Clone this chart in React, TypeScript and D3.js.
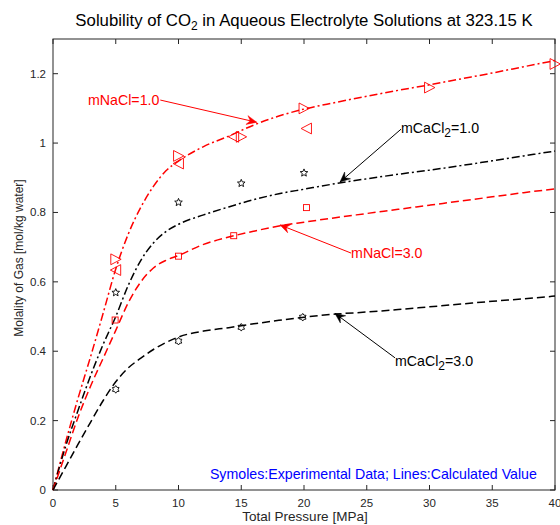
import React from "react";
import * as d3 from "d3";

// ---------- data ----------
const pressureGrid = [0, 1, 2, 3, 4, 5, 6, 7, 8, 9, 10, 12, 14, 16, 18, 20, 22.5, 25, 27.5, 30, 32.5, 35, 37.5, 40];
const calcNaCl1 = [0, 0.137, 0.265, 0.385, 0.51, 0.637, 0.738, 0.815, 0.875, 0.92, 0.948, 0.99, 1.02, 1.052, 1.078, 1.098, 1.117, 1.135, 1.152, 1.168, 1.185, 1.202, 1.22, 1.238];
const calcCaCl1 = [0, 0.125, 0.23, 0.33, 0.42, 0.5, 0.59, 0.662, 0.712, 0.745, 0.766, 0.793, 0.816, 0.837, 0.854, 0.867, 0.883, 0.897, 0.91, 0.922, 0.935, 0.949, 0.963, 0.977];
const calcNaCl3 = [0, 0.105, 0.21, 0.3, 0.38, 0.46, 0.54, 0.6, 0.64, 0.662, 0.676, 0.708, 0.729, 0.746, 0.761, 0.772, 0.785, 0.797, 0.809, 0.821, 0.833, 0.845, 0.857, 0.868];
const calcCaCl3 = [0, 0.066, 0.132, 0.196, 0.258, 0.312, 0.352, 0.38, 0.405, 0.425, 0.441, 0.458, 0.468, 0.479, 0.489, 0.498, 0.507, 0.513, 0.52, 0.528, 0.536, 0.544, 0.551, 0.559];

const expNaCl1A_P = [5, 10, 15, 20, 30, 40];
const expNaCl1A = [0.665, 0.963, 1.018, 1.1, 1.16, 1.228];
const expNaCl1B_P = [5, 10, 14.4, 20.2];
const expNaCl1B = [0.634, 0.941, 1.018, 1.042];
const expCaCl1_P = [5, 10, 15, 20];
const expCaCl1 = [0.569, 0.829, 0.884, 0.914];
const expNaCl3_P = [4.95, 10, 14.4, 20.2];
const expNaCl3 = [0.49, 0.674, 0.733, 0.814];
const expCaCl3_P = [5, 10, 15, 19.9];
const expCaCl3 = [0.29, 0.429, 0.469, 0.498];

const xTicks = [0, 5, 10, 15, 20, 25, 30, 35, 40];
const yTicks = [0, 0.2, 0.4, 0.6, 0.8, 1.0, 1.2];

// annotations in data units
const annotations = [
  { label: "mNaCl=1.0", sub: "", rest: "", color: "#ff0000", tx: 2.79, ty: 1.124, fx: 8.55, fy: 1.124, px: 16.23, py: 1.06 },
  { label: "mCaCl", sub: "2", rest: "=1.0", color: "#000000", tx: 27.73, ty: 1.043, fx: 27.73, fy: 1.04, px: 22.87, py: 0.888 },
  { label: "mNaCl=3.0", sub: "", rest: "", color: "#ff0000", tx: 23.75, ty: 0.683, fx: 23.75, fy: 0.683, px: 18.09, py: 0.764 },
  { label: "mCaCl", sub: "2", rest: "=3.0", color: "#000000", tx: 27.25, ty: 0.372, fx: 27.25, fy: 0.381, px: 22.47, py: 0.509 },
];

const FONT = "'Liberation Sans', Arial, Helvetica, sans-serif";
const AX = "#262626";

const W = 560, H = 525;
const x = d3.scaleLinear().domain([0, 40]).range([53, 555]);
const y = d3.scaleLinear().domain([0, 1.3]).range([490, 39]);

function curvePath(vals: number[]) {
  const line = d3
    .line<number>()
    .x((_, i) => x(pressureGrid[i]))
    .y((d) => y(d))
    .curve(d3.curveMonotoneX);
  return line(vals) || "";
}

function triRight(cx: number, cy: number, s: number) {
  return `M${cx - s * 0.55},${cy - s * 0.6}L${cx + s * 0.6},${cy}L${cx - s * 0.55},${cy + s * 0.6}Z`;
}
function triLeft(cx: number, cy: number, s: number) {
  return `M${cx + s * 0.55},${cy - s * 0.6}L${cx - s * 0.6},${cy}L${cx + s * 0.55},${cy + s * 0.6}Z`;
}
function starPath(cx: number, cy: number, n: number, ro: number, ri: number) {
  const pts: string[] = [];
  for (let i = 0; i < 2 * n; i++) {
    const r = i % 2 === 0 ? ro : ri;
    const a = -Math.PI / 2 + (i * Math.PI) / n;
    pts.push(`${cx + r * Math.cos(a)},${cy + r * Math.sin(a)}`);
  }
  return "M" + pts.join("L") + "Z";
}

function arrowHead(fx: number, fy: number, tx: number, ty: number) {
  const dx = tx - fx, dy = ty - fy;
  const len = Math.hypot(dx, dy);
  const ux = dx / len, uy = dy / len;
  const nx = -uy, ny = ux;
  const L = 10, Wd = 4.5, notch = 6.5;
  const bx = tx - ux * L, by = ty - uy * L;
  const mx = tx - ux * notch, my = ty - uy * notch;
  return `M${tx},${ty}L${bx + nx * Wd},${by + ny * Wd}L${mx},${my}L${bx - nx * Wd},${by - ny * Wd}Z`;
}

export default function App() {
  const dashDot = "8,3,2,3";
  const dashed = "8,4";
  return (
    <svg width={W} height={H} style={{ position: "absolute", left: 0, top: 0, background: "#fff" }} fontFamily={FONT}>
      <rect x={0} y={0} width={W} height={H} fill="#fff" />
      {/* title */}
      <text x={304} y={26} textAnchor="middle" fontSize={16.8} fill="#000">
        Solubility of CO<tspan fontSize={12} dy={4}>2</tspan>
        <tspan dy={-4}> in Aqueous Electrolyte Solutions at 323.15 K</tspan>
      </text>

      {/* axes box */}
      <rect x={x(0)} y={y(1.3)} width={x(40) - x(0)} height={y(0) - y(1.3)} fill="none" stroke={AX} strokeWidth={1} />
      {xTicks.map((t) => (
        <g key={"xt" + t}>
          <line x1={x(t)} x2={x(t)} y1={y(0)} y2={y(0) - 5} stroke={AX} />
          <line x1={x(t)} x2={x(t)} y1={y(1.3)} y2={y(1.3) + 5} stroke={AX} />
          <text x={x(t)} y={507} textAnchor="middle" fontSize={11.5} fill={AX}>
            {t}
          </text>
        </g>
      ))}
      {yTicks.map((t) => (
        <g key={"yt" + t}>
          <line x1={x(0)} x2={x(0) + 5} y1={y(t)} y2={y(t)} stroke={AX} />
          <line x1={x(40)} x2={x(40) - 5} y1={y(t)} y2={y(t)} stroke={AX} />
          <text x={46} y={y(t) + 4} textAnchor="end" fontSize={11.5} fill={AX}>
            {String(t)}
          </text>
        </g>
      ))}
      <text x={305} y={521} textAnchor="middle" fontSize={13.5} fill={AX}>
        Total Pressure [MPa]
      </text>
      <text transform={`translate(23,${258}) rotate(-90)`} textAnchor="middle" fontSize={12} fill={AX}>
        Molality of Gas [mol/kg water]
      </text>

      {/* calculated curves */}
      <path d={curvePath(calcNaCl1)} fill="none" stroke="#ff0000" strokeWidth={1.5} strokeDasharray={dashDot} />
      <path d={curvePath(calcCaCl1)} fill="none" stroke="#000" strokeWidth={1.5} strokeDasharray={dashDot} />
      <path d={curvePath(calcNaCl3)} fill="none" stroke="#ff0000" strokeWidth={1.5} strokeDasharray={dashed} />
      <path d={curvePath(calcCaCl3)} fill="none" stroke="#000" strokeWidth={1.5} strokeDasharray={dashed} />

      {/* experimental markers */}
      {expNaCl1A.map((v, i) => (
        <path key={"a" + i} d={triRight(x(expNaCl1A_P[i]), y(v), 9)} fill="none" stroke="#ff0000" strokeWidth={0.9} />
      ))}
      {expNaCl1B.map((v, i) => (
        <path key={"b" + i} d={triLeft(x(expNaCl1B_P[i]), y(v), 9)} fill="none" stroke="#ff0000" strokeWidth={0.9} />
      ))}
      {expCaCl1.map((v, i) => (
        <path key={"c" + i} d={starPath(x(expCaCl1_P[i]), y(v), 5, 4, 1.8)} fill="none" stroke="#000" strokeWidth={0.9} />
      ))}
      {expNaCl3.map((v, i) => (
        <rect key={"d" + i} x={x(expNaCl3_P[i]) - 3} y={y(v) - 3} width={6} height={6} fill="none" stroke="#ff0000" strokeWidth={0.9} />
      ))}
      {expCaCl3.map((v, i) => (
        <path key={"e" + i} d={starPath(x(expCaCl3_P[i]), y(v), 6, 3.8, 2.4)} fill="none" stroke="#000" strokeWidth={0.9} />
      ))}

      {/* annotations */}
      {annotations.map((a, i) => {
        const fx = x(a.fx), fy = y(a.fy), tx = x(a.px), ty = y(a.py);
        return (
          <g key={"an" + i}>
            <line x1={fx} y1={fy} x2={tx} y2={ty} stroke={a.color} strokeWidth={1} />
            <path d={arrowHead(fx, fy, tx, ty)} fill={a.color} stroke={a.color} strokeWidth={0.5} />
            <text x={x(a.tx)} y={y(a.ty) + 5} fontSize={14.2} fill={a.color}>
              {a.label}
              {a.sub ? (
                <>
                  <tspan fontSize={12} dy={4}>{a.sub}</tspan>
                  <tspan dy={-4}>{a.rest}</tspan>
                </>
              ) : null}
            </text>
          </g>
        );
      })}

      <text x={x(12.5)} y={y(0.046) + 5} fontSize={14.2} fill="#0000ff">
        Symoles:Experimental Data; Lines:Calculated Value
      </text>
    </svg>
  );
}
